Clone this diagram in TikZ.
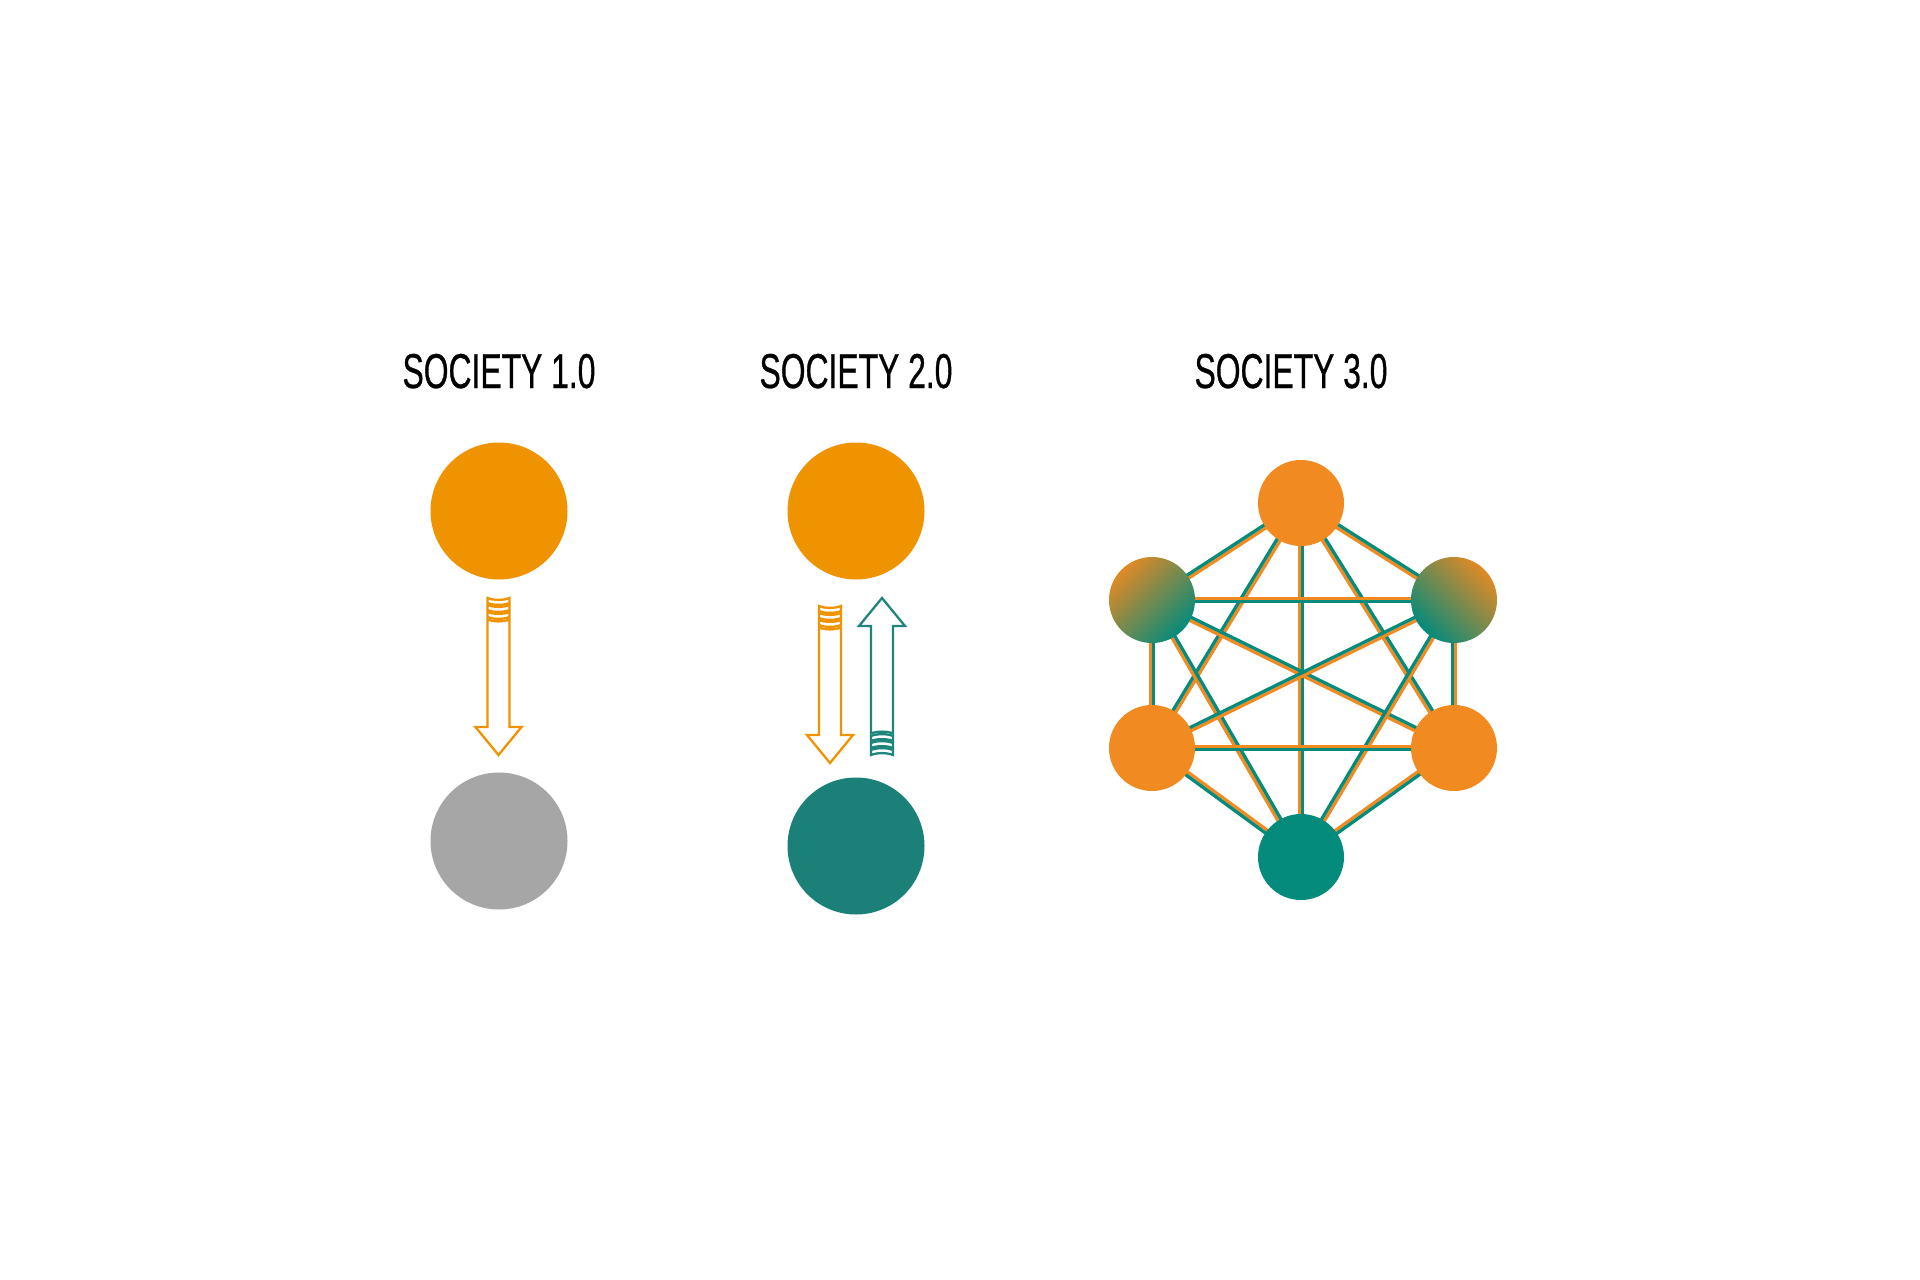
\documentclass[tikz,border=0pt]{standalone}
\usepackage{fontspec}
\newfontfamily\titlefont[FakeStretch=0.65,FakeBold=0.6]{Liberation Sans}
\usetikzlibrary{calc,backgrounds}
\definecolor{sorange}{HTML}{F09300}
\definecolor{sgray}{HTML}{A6A6A6}
\definecolor{steal}{HTML}{1B8077}
\definecolor{norange}{HTML}{F18A21}
\definecolor{nteal}{HTML}{048B7B}
\definecolor{gradorange}{HTML}{E08A25}
\definecolor{ateal}{HTML}{1F857C}
\tikzset{
  bigdot/.style={circle,minimum size=137pt,inner sep=0pt,draw=none},
  netdot/.style={circle,minimum size=86pt,inner sep=0pt,draw=none},
  graddot/.style={netdot,shading=axis,top color=gradorange,middle color=nteal,bottom color=nteal},
  title/.style={font=\titlefont\fontsize{49}{55}\selectfont,anchor=base,inner sep=0pt},
  arrowline/.style={line width=2.3pt,fill=white,line join=miter},
  olane/.style={draw=norange,line width=3.3pt},
  tlane/.style={draw=nteal,line width=3.3pt}
}
% block arrow in local coordinates: origin = tail top centre, #2 = length
\newcommand\blockarr[2]{%
  \foreach \t in {0,7,14}{%
    \draw[arrowline,draw=#1] (-11,\t) .. controls (-5,\t+2.5) and (5,\t+2.5) .. (11,\t)
      -- (11,\t+5) .. controls (5,\t+7.5) and (-5,\t+7.5) .. (-11,\t+5) -- cycle;}
  \draw[arrowline,draw=#1] (11,21.5) .. controls (5,24) and (-5,24) .. (-11,21.5)
    -- (-11,#2-28) -- (-23,#2-28) -- (0,#2) -- (23,#2-28) -- (11,#2-28) -- cycle;}
\newcommand\duoline[2]{%
  \draw[olane] ($(#1)!1.65pt!90:(#2)$) -- ($(#2)!1.65pt!-90:(#1)$);
  \draw[tlane] ($(#1)!1.65pt!-90:(#2)$) -- ($(#2)!1.65pt!90:(#1)$);}
\begin{document}
\begin{tikzpicture}[x=1pt,y=-1pt]
\begin{scope}[on background layer]
  \fill[white] (0,0) rectangle (1920,1280);
\end{scope}
\useasboundingbox (0,0) rectangle (1920,1280);

% titles
\node[title] (t1) at (499,388) {SOCIETY 1.0};
\node[title] (t2) at (856,388) {SOCIETY 2.0};
\node[title] (t3) at (1291,388) {SOCIETY 3.0};

% society 1.0
\node[bigdot,fill=sorange] (a1) at (499,511) {};
\node[bigdot,fill=sgray] (b1) at (499,841) {};
\begin{scope}[shift={(498.5,598)}]
  \blockarr{sorange}{157}
\end{scope}

% society 2.0
\node[bigdot,fill=sorange] (a2) at (856,511) {};
\node[bigdot,fill=steal] (b2) at (856,846) {};
\begin{scope}[shift={(830,606)}]
  \blockarr{sorange}{157}
\end{scope}
\begin{scope}[shift={(882,755)},yscale=-1]
  \blockarr{ateal}{157}
\end{scope}

% society 3.0
\node[netdot,fill=norange] (nt) at (1301,503) {};
\node[graddot,shading angle=45] (nul) at (1152,600) {};
\node[graddot,shading angle=-45] (nur) at (1454,600) {};
\node[netdot,fill=norange] (nll) at (1152,748) {};
\node[netdot,fill=norange] (nlr) at (1454,748) {};
\node[netdot,fill=nteal] (nb) at (1301,857) {};

\begin{scope}[on background layer]
  \duoline{nt}{nul}
  \duoline{nur}{nt}
  \duoline{nt}{nll}
  \duoline{nlr}{nt}
  \duoline{nb}{nt}
  \duoline{nul}{nur}
  \duoline{nll}{nul}
  \duoline{nlr}{nul}
  \duoline{nb}{nul}
  \duoline{nur}{nll}
  \duoline{nur}{nlr}
  \duoline{nur}{nb}
  \duoline{nll}{nlr}
  \duoline{nll}{nb}
  \duoline{nb}{nlr}
\end{scope}
\end{tikzpicture}
\end{document}
